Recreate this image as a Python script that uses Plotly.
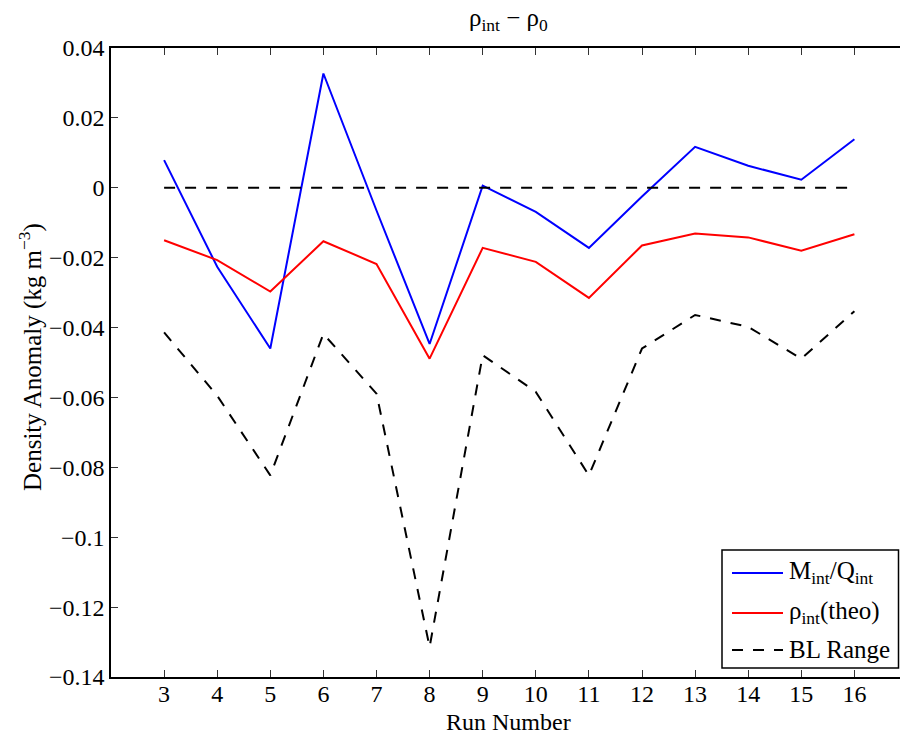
import plotly.graph_objects as go

runs = [3, 4, 5, 6, 7, 8, 9, 10, 11, 12, 13, 14, 15, 16]
m_over_q = [0.0079, -0.0226, -0.0460, 0.0327, -0.0065, -0.0447, 0.0006, -0.0069,
            -0.0172, -0.0025, 0.0117, 0.0063, 0.0023, 0.0139]
rho_theo = [-0.0150, -0.0207, -0.0297, -0.0153, -0.0218, -0.0489, -0.0172, -0.0212,
            -0.0315, -0.0165, -0.0131, -0.0142, -0.0180, -0.0133]
bl_range = [-0.0414, -0.0595, -0.0823, -0.0418, -0.0589, -0.1314, -0.0479, -0.0584,
            -0.0823, -0.0460, -0.0364, -0.0398, -0.0489, -0.0353]
zero_line = [0.0] * len(runs)

ytick_vals = [0.04, 0.02, 0.0, -0.02, -0.04, -0.06, -0.08, -0.1, -0.12, -0.14]
ytick_text = ["0.04", "0.02", "0", "\u22120.02", "\u22120.04", "\u22120.06", "\u22120.08",
              "\u22120.1", "\u22120.12", "\u22120.14"]

series_names = ["M<sub>int</sub>/Q<sub>int</sub>", "\u03c1<sub>int</sub>(theo)", "BL Range"]
series_colors = ["#0000ff", "#ff0000", "black"]
series_dash = ["solid", "solid", "11px,10px"]

FONT = "Liberation Serif, Times New Roman, serif"
W, H = 900, 740
L, R, T, B = 111, 0, 48, 63
PW, PH = W - L - R, H - T - B


def px(xp):
    return (xp - L) / PW


def py(yp):
    return (H - B - yp) / PH


fig = go.Figure()
for y, name, col, d in zip([m_over_q, rho_theo, bl_range], series_names, series_colors, series_dash):
    fig.add_trace(go.Scatter(x=runs, y=y, mode="lines", name=name, showlegend=False,
                             line=dict(color=col, width=2, dash=d)))
fig.add_trace(go.Scatter(x=runs, y=zero_line, mode="lines", showlegend=False,
                         line=dict(color="black", width=2, dash=series_dash[2])))

shapes = []
annotations = []
# Legend box (manual)
shapes.append(dict(type="rect", xref="paper", yref="paper",
                   x0=px(722), x1=px(898.5), y0=py(668), y1=py(550),
                   line=dict(color="black", width=1.5), fillcolor="white", layer="above"))
rows_y = [573, 613, 650]
for ry, name, col, d in zip(rows_y, series_names, series_colors, series_dash):
    shapes.append(dict(type="line", xref="paper", yref="paper",
                       x0=px(732), x1=px(783), y0=py(ry), y1=py(ry),
                       line=dict(color=col, width=2, dash=d), layer="above"))
    annotations.append(dict(text=name, xref="paper", yref="paper", x=px(787), y=py(ry - 1),
                            xanchor="left", yanchor="middle", showarrow=False,
                            font=dict(family=FONT, size=25, color="black")))

# Title and axis titles
annotations.append(dict(text="\u03c1<sub>int</sub> \u2212 \u03c1<sub>0</sub>", xref="paper", yref="paper",
                        x=px(509), y=py(19), xanchor="center", yanchor="middle", showarrow=False,
                        font=dict(family=FONT, size=25, color="black")))
annotations.append(dict(text="Run Number", xref="paper", yref="paper",
                        x=px(509), y=py(722), xanchor="center", yanchor="middle", showarrow=False,
                        font=dict(family=FONT, size=24, color="black")))
annotations.append(dict(text="Density Anomaly (kg m<sup>\u22123</sup>)", xref="paper", yref="paper",
                        x=px(30), y=py(357), xanchor="center", yanchor="middle", showarrow=False,
                        textangle=-90, font=dict(family=FONT, size=25, color="black")))

fig.update_layout(
    width=W, height=H,
    margin=dict(l=L, r=R, t=T, b=B, autoexpand=False),
    paper_bgcolor="white", plot_bgcolor="white",
    font=dict(family=FONT, size=24, color="black"),
    showlegend=False,
    shapes=shapes, annotations=annotations,
    xaxis=dict(range=[2, 2 + PW / 53.1], tickvals=runs, ticks="inside", ticklen=7,
               tickcolor="#333", showline=True, linecolor="black", linewidth=1.5,
               mirror="ticks", showgrid=False, zeroline=False, automargin=False,
               ticklabelstandoff=-6, tickfont=dict(size=24)),
    yaxis=dict(range=[-0.14, 0.04], tickvals=ytick_vals, ticktext=ytick_text,
               ticks="inside", ticklen=7, tickcolor="#333", showline=True,
               linecolor="black", linewidth=1.5, showgrid=False, zeroline=False,
               automargin=False, tickfont=dict(size=24)),
)

fig.write_html(
    "out.html",
    config={"displayModeBar": False},
    post_script="document.body.style.margin='0';document.documentElement.style.overflow='hidden';document.body.style.overflow='hidden';",
)
